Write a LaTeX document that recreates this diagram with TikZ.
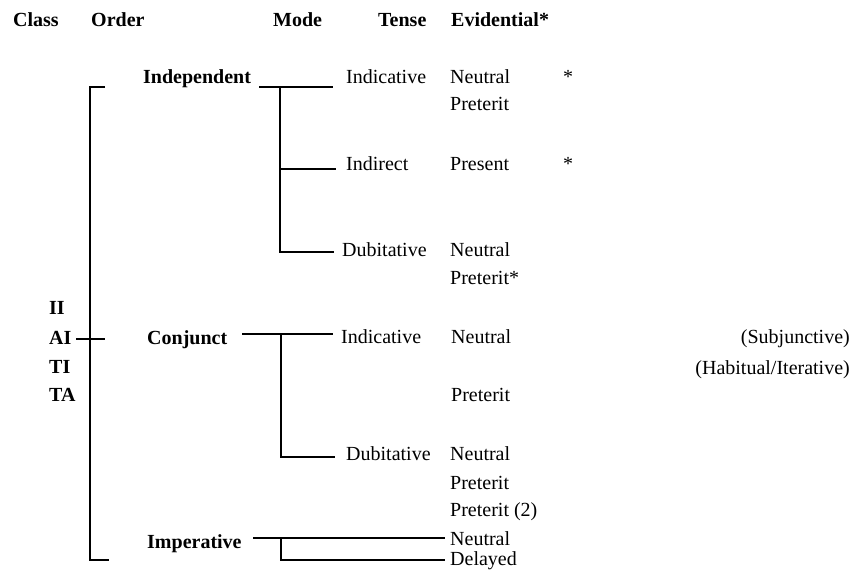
\documentclass[tikz,border=0pt]{standalone}
\usepackage{fontspec}
\setmainfont{Liberation Serif}
\begin{document}
\begin{tikzpicture}[x=1pt,y=-1pt,
  lbl/.style={anchor=base west,inner sep=0pt,font=\fontsize{20}{24}\selectfont},
  rlbl/.style={anchor=base east,inner sep=0pt,font=\fontsize{20}{24}\selectfont},
  hdr/.style={lbl,font=\fontsize{20}{24}\selectfont\bfseries},
  wire/.style={line width=2pt,line cap=butt}]
\useasboundingbox (0,0) rectangle (853,577);
% headers
\node[hdr] (hClass) at (13,26.6) {Class};
\node[hdr] (hOrder) at (91,26.6) {Order};
\node[hdr] (hMode) at (273,26.6) {Mode};
\node[hdr] (hTense) at (378,26.6) {Tense};
\node[hdr] (hEvid) at (451,26.6) {Evidential*};
% class
\node[hdr] (cII) at (49,314.6) {II};
\node[hdr] (cAI) at (49,344.6) {AI};
\node[hdr] (cTI) at (49,373.6) {TI};
\node[hdr] (cTA) at (49,401.6) {TA};
% orders
\node[hdr] (indep) at (143,83.6) {Independent};
\node[hdr] (conj) at (147,344.6) {Conjunct};
\node[hdr] (imper) at (147,548.6) {Imperative};
% independent modes
\node[lbl] (iInd) at (346,83.6) {Indicative};
\node[lbl] (iInd1) at (450,83.6) {Neutral};
\node[lbl] (iIndS) at (563,83.6) {*};
\node[lbl] (iInd2) at (450,110.6) {Preterit};
\node[lbl] (iIdr) at (346,170.6) {Indirect};
\node[lbl] (iIdr1) at (450,170.6) {Present};
\node[lbl] (iIdrS) at (563,170.6) {*};
\node[lbl] (iDub) at (342,256.6) {Dubitative};
\node[lbl] (iDub1) at (450,256.6) {Neutral};
\node[lbl] (iDub2) at (450,284.6) {Preterit*};
% conjunct modes
\node[lbl] (cInd) at (341,343.6) {Indicative};
\node[lbl] (cInd1) at (451,343.6) {Neutral};
\node[lbl] (cInd2) at (451,401.6) {Preterit};
\node[rlbl] (subj) at (850,343.6) {(Subjunctive)};
\node[rlbl] (habit) at (850,374.6) {(Habitual/Iterative)};
\node[lbl] (cDub) at (346,460.6) {Dubitative};
\node[lbl] (cDub1) at (450,460.6) {Neutral};
\node[lbl] (cDub2) at (450,489.6) {Preterit};
\node[lbl] (cDub3) at (450,516.6) {Preterit (2)};
% imperative
\node[lbl] (mNeu) at (450,545.4) {Neutral};
\node[lbl] (mDel) at (450,565.6) {Delayed};
% coordinates
\coordinate (bTop) at (105,87);
\coordinate (bTL) at (90,87);
\coordinate (bBL) at (90,560);
\coordinate (bBot) at (109,560);
\coordinate (tickL) at (76,339);
\coordinate (tickR) at (105,339);
\coordinate (iL) at (259,87);
\coordinate (iJ) at (280,87);
\coordinate (iR) at (333,87);
\coordinate (iJ2) at (280,169);
\coordinate (iR2) at (336,169);
\coordinate (iJ3) at (280,252);
\coordinate (iR3) at (334,252);
\coordinate (cL) at (242,334);
\coordinate (cJ) at (281,334);
\coordinate (cR) at (333,334);
\coordinate (cJ2) at (281,457);
\coordinate (cR2) at (335,457);
\coordinate (mL) at (253,538);
\coordinate (mJ) at (281,538);
\coordinate (mR) at (445,538);
\coordinate (mJ2) at (281,560);
\coordinate (mR2) at (445,560);
% wires
\draw[wire] (bTop) -- (bTL) -- (bBL) -- (bBot);
\draw[wire] (tickL) -- (tickR);
\draw[wire] (iL) -- (iR);
\draw[wire] (iJ) -- (iJ3) -- (iR3);
\draw[wire] (iJ2) -- (iR2);
\draw[wire] (cL) -- (cR);
\draw[wire] (cJ) -- (cJ2) -- (cR2);
\draw[wire] (mL) -- (mR);
\draw[wire] (mJ) -- (mJ2) -- (mR2);
\end{tikzpicture}
\end{document}
